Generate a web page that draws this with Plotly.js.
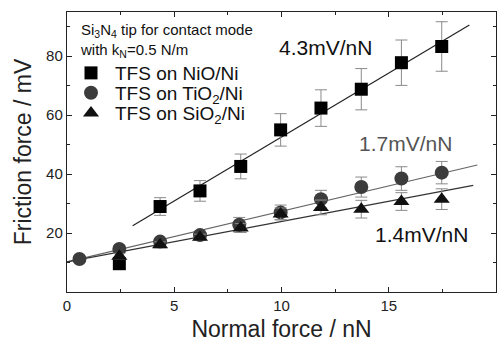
<!DOCTYPE html>
<html>
<head>
<meta charset="utf-8">
<script src="https://cdn.plot.ly/plotly-3.0.1.min.js"></script>
<style>html,body{margin:0;padding:0;background:#fff;}#chart{width:504px;height:342px;}</style>
</head>
<body>
<div id="chart"></div>
<script>
// Normal force (nN)
const xNiO = [2.44, 4.34, 6.2, 8.1, 9.96, 11.84, 13.72, 15.59, 17.47];
const yNiO = [9.6, 29.0, 34.3, 42.6, 55.0, 62.4, 68.8, 77.8, 83.3];
const eNiO = [1.5, 3.0, 3.5, 4.2, 5.5, 6.2, 7.0, 7.7, 8.4];

const xTiO2 = [0.58, 2.44, 4.34, 6.2, 8.03, 9.96, 11.84, 13.72, 15.59, 17.47];
const yTiO2 = [11.2, 14.6, 17.1, 19.3, 22.8, 27.0, 31.5, 35.6, 38.5, 40.5];
const eTiO2 = [0.8, 1.0, 1.0, 1.0, 2.5, 2.5, 3.0, 3.4, 4.0, 3.8];

const xSiO2 = [2.44, 4.34, 6.2, 8.1, 9.96, 11.84, 13.72, 15.59, 17.47];
const ySiO2 = [12.1, 16.0, 18.6, 21.7, 26.5, 28.7, 28.1, 30.7, 31.5];
const eSiO2 = [1.0, 1.0, 1.0, 1.5, 2.0, 2.5, 3.0, 3.0, 3.5];

const seriesNames = ['TFS on NiO/Ni', 'TFS on TiO<sub>2</sub>/Ni', 'TFS on SiO<sub>2</sub>/Ni'];

// linear fits
const fitNames = ['NiO', 'TiO2', 'SiO2'];
const fitSlope = [4.34, 1.72, 1.37];
const fitIntercept = [9.2, 10.2, 10.2];
const fitXStart = [3.06, 0, 0];
const fitXEnd = [18.76, 19.13, 18.94];
const fitColors = ['#222222', '#666666', '#333333'];

const slopeLabels = ['4.3mV/nN', '1.7mV/nN', '1.4mV/nN'];
const slopeLabelX = [12.03, 15.78, 16.53];
const slopeLabelY = [82.8, 50.3, 19.4];
const slopeLabelColor = ['#111111', '#555555', '#111111'];

const noteText = 'Si<sub>3</sub>N<sub>4</sub> tip for contact mode<br>with k<sub>N</sub>=0.5 N/m';

const xTickVals = [0, 5, 10, 15, 20];
const yTickVals = [20, 40, 60, 80];

const FONT = 'Liberation Sans, Arial, sans-serif';

const traces = [];
fitNames.forEach((n, i) => {
  traces.push({
    x: [fitXStart[i], fitXEnd[i]],
    y: [fitSlope[i] * fitXStart[i] + fitIntercept[i], fitSlope[i] * fitXEnd[i] + fitIntercept[i]],
    mode: 'lines', line: {color: fitColors[i], width: 1.2},
    showlegend: false, hoverinfo: 'skip'
  });
});

const errStyle = (arr) => ({type: 'data', array: arr, visible: true, color: '#8a8a8a', thickness: 1, width: 6});

traces.push({
  x: xNiO, y: yNiO, error_y: errStyle(eNiO), mode: 'markers', name: seriesNames[0], legend: 'legend',
  marker: {symbol: 'square', size: 13, color: '#000000'}
});
traces.push({
  x: xTiO2, y: yTiO2, error_y: errStyle(eTiO2), mode: 'markers', name: seriesNames[1], legend: 'legend2',
  marker: {symbol: 'circle', size: 14, color: '#3c3c3c'}
});
traces.push({
  x: xSiO2, y: ySiO2, error_y: errStyle(eSiO2), mode: 'markers', name: seriesNames[2], legend: 'legend3',
  marker: {symbol: 'triangle-up', size: 14, color: '#111111'}
});

const annotations = slopeLabels.map((t, i) => ({
  x: slopeLabelX[i], y: slopeLabelY[i], xref: 'x', yref: 'y', text: t, showarrow: false,
  font: {family: FONT, size: 21, color: slopeLabelColor[i]}
}));
annotations.push({
  x: 0.025, y: 0.975, xref: 'paper', yref: 'paper', xanchor: 'left', yanchor: 'top', align: 'left',
  text: noteText, showarrow: false, font: {family: FONT, size: 15, color: '#111'}
});

const axisCommon = {
  showline: true, mirror: 'ticks', linecolor: '#222', linewidth: 1.2,
  ticks: 'inside', ticklen: 5, tickwidth: 1, tickcolor: '#222',
  showgrid: false, zeroline: false,
  tickfont: {family: FONT, size: 15, color: '#222'}
};

const legendBase = (y) => ({
  x: 0.0, y: y, xanchor: 'left', yanchor: 'middle',
  bgcolor: 'rgba(0,0,0,0)', borderwidth: 0,
  font: {family: FONT, size: 19, color: '#111'},
  itemwidth: 38, tracegroupgap: 0
});

const layout = {
  width: 504, height: 342,
  margin: {l: 67, r: 8, t: 12, b: 50},
  paper_bgcolor: '#fff', plot_bgcolor: '#fff',
  showlegend: true,
  legend: legendBase(0.782),
  legend2: legendBase(0.711),
  legend3: legendBase(0.639),
  xaxis: Object.assign({}, axisCommon, {
    range: [0, 20], tickmode: 'array', tickvals: xTickVals,
    minor: {dtick: 2.5, tick0: 0, ticklen: 3, ticks: 'inside', tickcolor: '#222'},
    title: {text: 'Normal force / nN', font: {family: FONT, size: 23, color: '#222'}, standoff: 11}
  }),
  yaxis: Object.assign({}, axisCommon, {
    range: [0, 95], tickmode: 'array', tickvals: yTickVals,
    minor: {dtick: 10, tick0: 0, ticklen: 3, ticks: 'inside', tickcolor: '#222'},
    title: {text: 'Friction force / mV', font: {family: FONT, size: 23, color: '#222'}, standoff: 8}
  }),
  annotations: annotations
};

Plotly.newPlot('chart', traces, layout, {displayModeBar: false, staticPlot: true});
</script>
</body>
</html>
